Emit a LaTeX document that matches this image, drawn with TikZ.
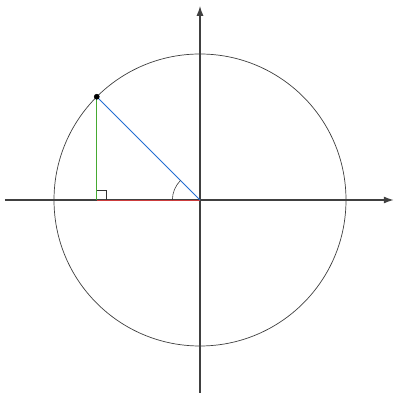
\documentclass[tikz,border=0pt]{standalone}
\usepackage{amsmath,amssymb}
\usetikzlibrary{arrows.meta,calc}
\definecolor{cosred}{RGB}{205,60,60}
\definecolor{singreen}{RGB}{70,170,50}
\definecolor{radblue}{RGB}{35,110,210}

\begin{document}
\begin{tikzpicture}
    \useasboundingbox (-5, -5) rectangle (5, 5);
    \coordinate (O) at (0, 0);
    \coordinate (P) at (135:3.65);
    \coordinate (Q) at (P |- O);
    \draw[black!75, line width=0.5pt] (O) circle (3.65);
    \draw[black!75, line width=0.8pt, -{Latex[length=7pt, width=5pt]}] (-4.875, 0) -- (4.84, 0);
    \draw[black!75, line width=0.8pt, -{Latex[length=7pt, width=5pt]}] (0, -4.82) -- (0, 4.85);
    \draw[cosred, line width=0.7pt] (Q) -- (O);
    \draw[singreen, line width=0.7pt] (Q) -- (P);
    \draw[radblue, line width=0.7pt] (O) -- (P);
    \draw[black!80, line width=0.4pt] ($(Q) + (0.24, 0)$) |- ($(Q) + (0, 0.24)$);
    \draw[black!80, line width=0.4pt] (-0.69, 0) arc (180:135:0.69);
    \filldraw[black] (P) circle (1.8pt);
\end{tikzpicture}
\end{document}
